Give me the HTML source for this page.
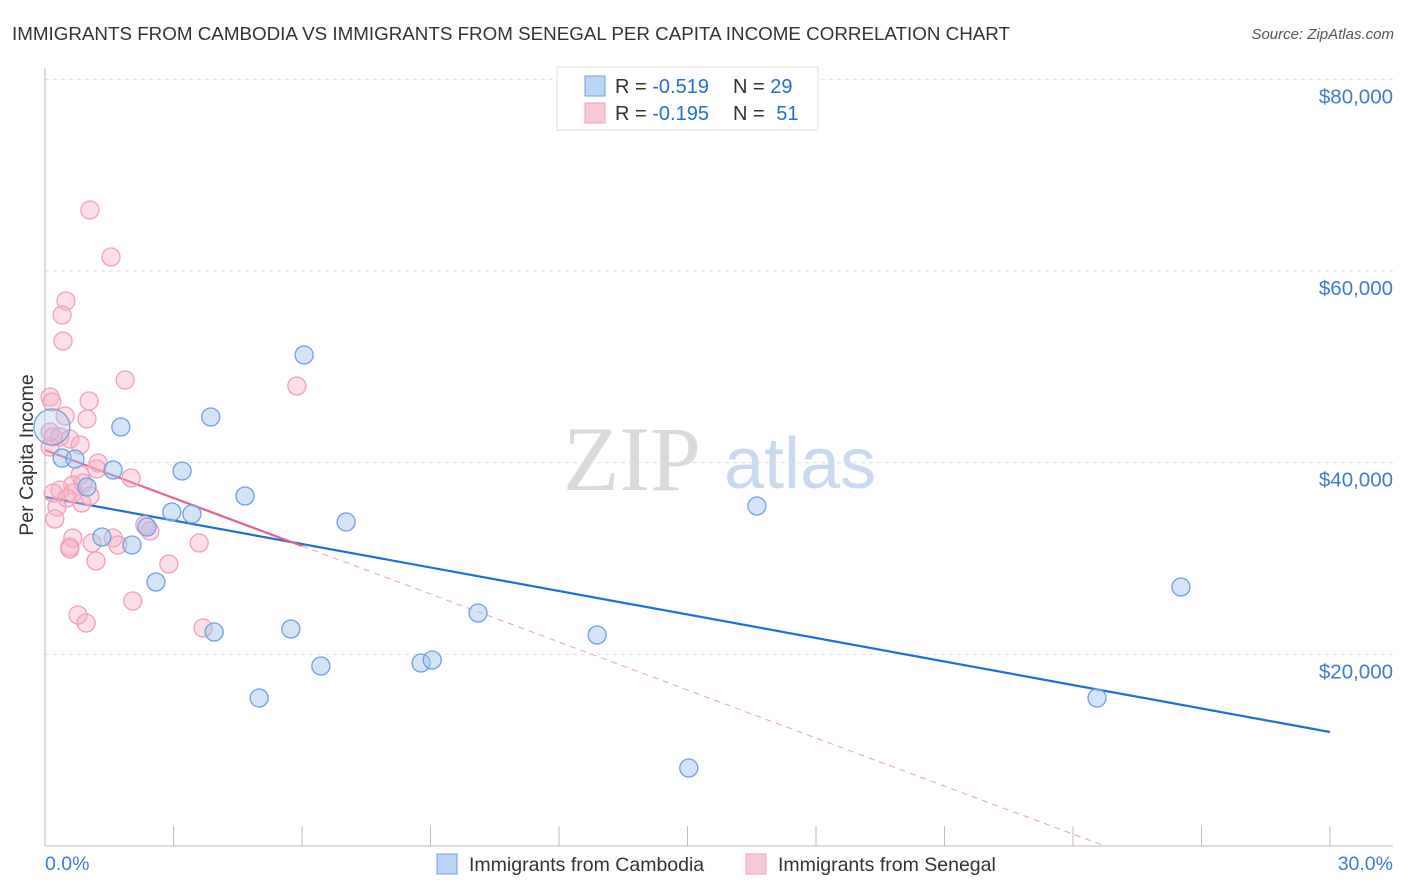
<!DOCTYPE html>
<html><head><meta charset="utf-8"><style>
body{margin:0;background:#fff;font-family:"Liberation Sans",sans-serif;}
svg{display:block}
</style></head><body>
<svg id="chart" width="1406" height="892">
<text x="12" y="40" font-size="18" fill="#333" textLength="998" lengthAdjust="spacingAndGlyphs">IMMIGRANTS FROM CAMBODIA VS IMMIGRANTS FROM SENEGAL PER CAPITA INCOME CORRELATION CHART</text>
<text x="1394" y="39" font-size="15" fill="#555" font-style="italic" text-anchor="end">Source: ZipAtlas.com</text>
<g><text x="632" y="490" font-size="92" fill="#d9d9d9" font-family="Liberation Serif,serif" text-anchor="middle">ZIP</text><text x="800" y="488" font-size="72" fill="#c9daf0" text-anchor="middle">atlas</text></g>
<g id="grid"></g><g id="axes"></g><g id="lines"></g><g id="pts"></g>
<text x="33" y="455" font-size="19.5" fill="#333" transform="rotate(-90 33 455)" text-anchor="middle">Per Capita Income</text>
<text x="45" y="870" font-size="19.5" fill="#3d7bd8">0.0%</text>
<text x="1393" y="870" font-size="19.5" fill="#3d7bd8" text-anchor="end">30.0%</text>
<g>
<rect x="557" y="67" width="261" height="63" fill="#fff" stroke="#ddd"/>
<rect x="585" y="76" width="20" height="20" fill="#bcd4f5" stroke="#6fa0e0"/>
<rect x="585" y="103" width="20" height="20" fill="#fbc8d8" stroke="#f0a0b8"/>
<text x="615" y="93" font-size="20" fill="#333">R = <tspan fill="#1f6fd8">-0.519</tspan></text>
<text x="733" y="93" font-size="20" fill="#333">N = <tspan fill="#1f6fd8">29</tspan></text>
<text x="615" y="120" font-size="20" fill="#333">R = <tspan fill="#1f6fd8">-0.195</tspan></text>
<text x="733" y="120" font-size="20" fill="#333">N = <tspan fill="#1f6fd8" dx="6">51</tspan></text>
</g>
<g>
<rect x="437" y="854" width="20" height="20" fill="#bcd4f5" stroke="#6fa0e0"/>
<text x="469" y="871" font-size="19.5" fill="#333">Immigrants from Cambodia</text>
<rect x="746" y="854" width="20" height="20" fill="#fbc8d8" stroke="#f0a0b8"/>
<text x="778" y="871" font-size="19.5" fill="#333">Immigrants from Senegal</text>
</g>
</svg>
<script>
const yTicks=[20000,40000,60000,80000];
const yTickLabels=["$20,000","$40,000","$60,000","$80,000"];
const xTicks=[0,3,6,9,12,15,18,21,24,27,30];
const cambodiaX=[0.16,0.40,0.70,0.98,1.77,1.59,3.87,3.20,6.05,2.96,3.43,4.67,2.38,1.33,2.03,2.59,3.95,5.74,7.03,10.11,12.89,6.44,8.78,9.04,5.00,15.03,16.62,26.52,24.56];
const cambodiaY=[43723,40483,40379,37457,43723,39236,44766,39131,51236,34853,34644,36523,33288,32244,31409,27548,22330,22644,33810,24313,22018,18783,19096,19409,15444,8139,35479,27027,15444];
const senegalX=[1.05,1.54,0.49,0.40,0.42,1.87,5.88,0.12,0.16,1.03,0.47,0.98,0.12,0.19,0.35,0.58,0.82,0.12,1.24,1.21,0.82,2.01,0.65,0.89,0.35,0.19,0.65,1.05,0.51,0.86,0.28,0.23,2.33,2.45,0.65,0.58,1.10,1.59,1.70,3.60,1.19,2.89,2.05,0.77,0.96,3.69,0.58];
const senegalY=[66367,61462,56871,55410,52697,48627,48001,46853,46331,46436,44871,44558,43201,42679,42679,42471,41844,41636,39967,39341,38714,38401,37671,37880,37149,36836,36836,36523,36314,35792,35375,34123,33497,32870,32140,31201,31618,32140,31409,31618,29740,29427,25566,24105,23270,22748,30992];
const cambodiaTrend=[36418,11896];
const senegalTrend=[41324,-8778];
const senegalSolidEnd=6;
const NS="http://www.w3.org/2000/svg";
const X=v=>45+v/30*1285, Y=v=>846-v*0.0095833;
function mk(tag,parent,attrs){const e=document.createElementNS(NS,tag);for(const k in attrs)e.setAttribute(k,attrs[k]);document.getElementById(parent).appendChild(e);return e;}
yTicks.forEach((t,i)=>{
 const g=mk('line','grid',{x1:45,x2:1393,y1:Y(t),y2:Y(t),stroke:'#ddd','stroke-dasharray':'4 4'});
 
 
 const l=mk('text','grid',{x:1393,y:Y(t)+24,'font-size':20.5,fill:'#3d7bd8','text-anchor':'end'});
 l.textContent=yTickLabels[i];
 
 
});
const ax=mk('line','axes',{x1:45,x2:45,y1:68,y2:846,stroke:'#bbb'});


const bx=mk('line','axes',{x1:45,x2:1393,y1:846,y2:846,stroke:'#bbb'});


xTicks.forEach(t=>{
 const k=mk('line','axes',{x1:X(t),x2:X(t),y1:826,y2:846,stroke:'#bbb'});
 
 
});
const bl=mk('line','lines',{x1:X(0),y1:Y(cambodiaTrend[0]),x2:X(30),y2:Y(cambodiaTrend[1]),stroke:'#1f6fd8','stroke-width':2.2});


const ps=v=>senegalTrend[0]+(senegalTrend[1]-senegalTrend[0])*v/30;
const pl=mk('line','lines',{x1:X(0),y1:Y(ps(0)),x2:X(senegalSolidEnd),y2:Y(ps(senegalSolidEnd)),stroke:'#e8608a','stroke-width':2.2});


const xEnd=30*senegalTrend[0]/(senegalTrend[0]-senegalTrend[1]);
const pd=mk('line','lines',{x1:X(senegalSolidEnd),y1:Y(ps(senegalSolidEnd)),x2:X(xEnd),y2:Y(0),stroke:'#e8a0b8','stroke-width':1,'stroke-dasharray':'6 5'});


senegalX.forEach((v,i)=>{
 const c=mk('circle','pts',{cx:X(v),cy:Y(senegalY[i]),r:9,fill:'rgba(248,175,198,0.4)',stroke:'#f0a0b8','stroke-width':1.3});
 
 
});
cambodiaX.forEach((v,i)=>{
 const c=mk('circle','pts',{cx:X(v),cy:Y(cambodiaY[i]),r:i===0?18:9,fill:i===0?'rgba(160,196,240,0.3)':'rgba(160,196,240,0.45)',stroke:'#6fa0e0','stroke-width':1.3});
 
 
});
</script>
</body></html>
